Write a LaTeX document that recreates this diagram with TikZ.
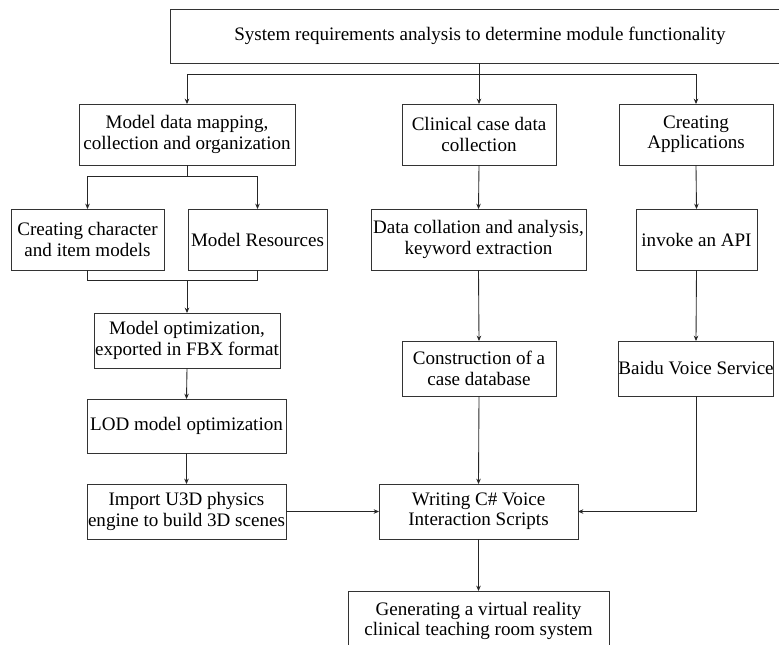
\documentclass[tikz,border=0pt]{standalone}
\usepackage{fontspec}
\setmainfont{Liberation Serif}
\usetikzlibrary{arrows.meta}
\tikzset{
  box/.style={draw=black!80, line width=0.7pt, inner sep=0pt, outer sep=0pt, align=center,
    font=\fontsize{14.3}{15.2}\selectfont},
  arr/.style={draw=black!85, line width=0.65pt, -{Stealth[length=4pt,width=3.4pt]}},
  ln/.style={draw=black!85, line width=0.65pt},
}
\newcommand\bx[6]{%
  \node[box, minimum width={(#4-#2)*0.75pt}, minimum height={(#5-#3)*0.75pt}]
    (#1) at ({(#2+#4)/2},{(#3+#5)/2}) {#6};}
\begin{document}
\begin{tikzpicture}[x=0.75pt,y=-0.75pt]
\useasboundingbox (0,0) rectangle (779,644);
\bx{top}{170}{9}{790}{63}{System requirements analysis to determine module functionality}
\bx{mdm}{79}{104}{295}{165}{Model data mapping,\\collection and organization}
\bx{clin}{402}{104}{556}{165}{Clinical case data\\collection}
\bx{apps}{619}{104}{773}{165}{Creating\\Applications}
\bx{chr}{11}{209}{164}{270}{Creating character\\and item models}
\bx{res}{188}{209}{327}{270}{Model Resources}
\bx{datac}{371}{209}{586}{270}{Data collation and analysis,\\keyword extraction}
\bx{api}{636}{209}{757}{270}{invoke an API}
\bx{mopt}{94}{313}{280}{368}{Model optimization,\\exported in FBX format}
\bx{cons}{402}{341}{556}{396}{Construction of a\\case database}
\bx{baidu}{619}{341}{773}{396}{Baidu Voice Service}
\bx{lod}{87}{399}{286}{453}{LOD model optimization}
\bx{imp}{87}{484}{286}{539}{Import U3D physics\\engine to build 3D scenes}
\bx{wri}{379}{484}{578}{539}{Writing C\# Voice\\Interaction Scripts}
\bx{gen}{348}{591}{609}{670}{}
\node[box, draw=none, anchor=north] (gentxt) at ({(348+609)/2},602) {Generating a virtual reality\\clinical teaching room system};
% top branches
\coordinate (j1) at (478,74);
\draw[arr] (top.south -| clin.north) -- (clin.north);
\draw[arr] (j1) -| (mdm.north);
\draw[arr] (j1) -| (apps.north);
% mdm split
\coordinate (j2) at (187,176);
\draw[ln] (mdm.south) -- (j2);
\draw[arr] (j2) -| (chr.north);
\draw[arr] (j2) -| (res.north);
% merge
\coordinate (j3) at (187,280);
\draw[ln] (chr.south) |- (j3);
\draw[ln] (res.south) |- (j3);
\draw[arr] (j3) -- (mopt.north);
\draw[arr] (mopt.south) -- (lod.north);
\draw[arr] (lod.south) -- (imp.north);
\draw[arr] (imp.east) -- (wri.west);
% middle
\draw[arr] (clin.south) -- (datac.north);
\draw[arr] (datac.south) -- (cons.north);
\draw[arr] (cons.south) -- (wri.north);
\draw[arr] (wri.south) -- (gen.north);
% right
\draw[arr] (apps.south) -- (api.north);
\draw[arr] (api.south) -- (baidu.north);
\draw[arr] (baidu.south) |- (wri.east);
\end{tikzpicture}
\end{document}
